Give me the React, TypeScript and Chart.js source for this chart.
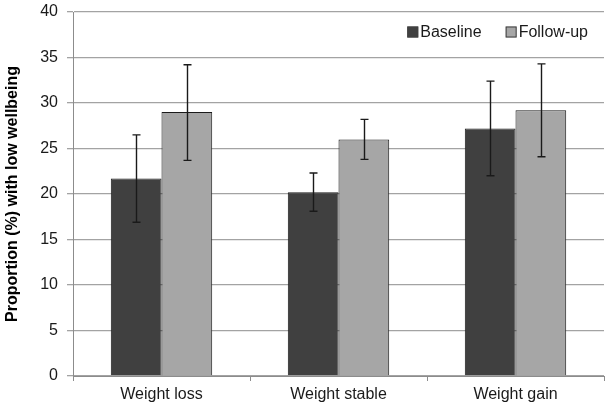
import React, { useEffect, useRef } from "react";
import { Chart, registerables } from "chart.js";

Chart.register(...registerables);

const categories = ["Weight loss", "Weight stable", "Weight gain"];
const seriesNames = ["Baseline", "Follow-up"];
const baselineValues = [21.7, 20.2, 27.2];
const baselineLow = [16.9, 18.1, 22.0];
const baselineHigh = [26.5, 22.3, 32.4];
const followupValues = [29.0, 26.0, 29.2];
const followupLow = [23.7, 23.8, 24.1];
const followupHigh = [34.2, 28.2, 34.3];
const yTicks = [0, 5, 10, 15, 20, 25, 30, 35, 40];

const FONT = "'Liberation Sans', Arial, sans-serif";

const errorBarPlugin = {
  id: "errorBars",
  afterDatasetsDraw(chart: any) {
    const ctx = chart.ctx;
    const yScale = chart.scales.y;
    chart.data.datasets.forEach((ds: any, di: number) => {
      const meta = chart.getDatasetMeta(di);
      meta.data.forEach((el: any, i: number) => {
        const x = Math.round(el.x) + 0.5;
        const yLo = yScale.getPixelForValue(ds.errLow[i]);
        const yHi = yScale.getPixelForValue(ds.errHigh[i]);
        ctx.save();
        ctx.strokeStyle = "#1a1a1a";
        ctx.lineWidth = 1.4;
        ctx.beginPath();
        ctx.moveTo(x, yLo);
        ctx.lineTo(x, yHi);
        ctx.moveTo(x - 4, yLo);
        ctx.lineTo(x + 4, yLo);
        ctx.moveTo(x - 4, yHi);
        ctx.lineTo(x + 4, yHi);
        ctx.stroke();
        ctx.restore();
      });
    });
  },
};

const legendPlugin = {
  id: "insideLegend",
  afterDraw(chart: any) {
    const ctx = chart.ctx;
    const area = chart.chartArea;
    ctx.save();
    ctx.font = "16px " + FONT;
    ctx.textBaseline = "middle";
    const box = 11;
    const gapText = 2;
    const gapItem = 24;
    const items = chart.data.datasets.map((ds: any) => ({
      label: ds.label,
      color: ds.backgroundColor,
      w: box + gapText + ctx.measureText(ds.label).width,
    }));
    const total = items.reduce((a: number, it: any) => a + it.w, 0) + gapItem * (items.length - 1);
    let x = area.right - 16 - total;
    const yc = area.top + 20;
    items.forEach((it: any) => {
      ctx.fillStyle = it.color;
      ctx.fillRect(x, yc - box / 2, box, box);
      ctx.strokeStyle = "#404040";
      ctx.lineWidth = 1;
      ctx.strokeRect(x + 0.5, yc - box / 2 + 0.5, box - 1, box - 1);
      ctx.fillStyle = "#1a1a1a";
      ctx.fillText(it.label, x + box + gapText, yc + 1);
      x += it.w + gapItem;
    });
    ctx.restore();
  },
};

export default function App() {
  const ref = useRef<HTMLCanvasElement>(null);
  useEffect(() => {
    if (!ref.current) return;
    const chart = new Chart(ref.current, {
      type: "bar",
      data: {
        labels: categories,
        datasets: [
          {
            label: seriesNames[0],
            data: baselineValues,
            backgroundColor: "#404040",
            borderColor: "#1a1a1a",
            borderWidth: 1,
            errLow: baselineLow,
            errHigh: baselineHigh,
          } as any,
          {
            label: seriesNames[1],
            data: followupValues,
            backgroundColor: "#a6a6a6",
            borderColor: "#1a1a1a",
            borderWidth: 1,
            errLow: followupLow,
            errHigh: followupHigh,
          } as any,
        ],
      },
      options: {
        animation: false,
        responsive: false,
        maintainAspectRatio: false,
        layout: { padding: { top: 0, right: 7, left: 0, bottom: 0 } },
        datasets: { bar: { categoryPercentage: 0.573, barPercentage: 1 } },
        plugins: {
          legend: { display: false },
          tooltip: { enabled: false },
        },
        scales: {
          x: {
            afterFit: (s: any) => {
              s.height = 34;
            },
            grid: {
              offset: true,
              drawOnChartArea: false,
              tickLength: 5,
              color: "#8c8c8c",
            },
            border: { color: "#8c8c8c" },
            ticks: { color: "#1a1a1a", font: { family: FONT, size: 16 }, padding: 4 },
          },
          y: {
            min: 0,
            max: 40,
            afterBuildTicks: (s: any) => {
              s.ticks = yTicks.map((v) => ({ value: v }));
            },
            afterFit: (s: any) => {
              s.width = 73;
              s.paddingTop = 12;
              s.paddingBottom = 0;
            },
            grid: { color: "#a3a3a3", tickLength: 6, lineWidth: 1.3 },
            border: { color: "#8c8c8c" },
            ticks: { color: "#1a1a1a", font: { family: FONT, size: 16 }, padding: 9 },
            title: {
              display: true,
              text: "Proportion (%) with low wellbeing",
              color: "#000",
              font: { family: FONT, size: 16, weight: "bold" },
              padding: { top: 3, bottom: 6 },
            },
          },
        },
      },
      plugins: [errorBarPlugin, legendPlugin],
    });
    return () => chart.destroy();
  }, []);
  return (
    <div style={{ position: "fixed", left: 0, top: 0, width: 611, height: 410, background: "#fff" }}>
      <canvas ref={ref} width={611} height={410} />
    </div>
  );
}
